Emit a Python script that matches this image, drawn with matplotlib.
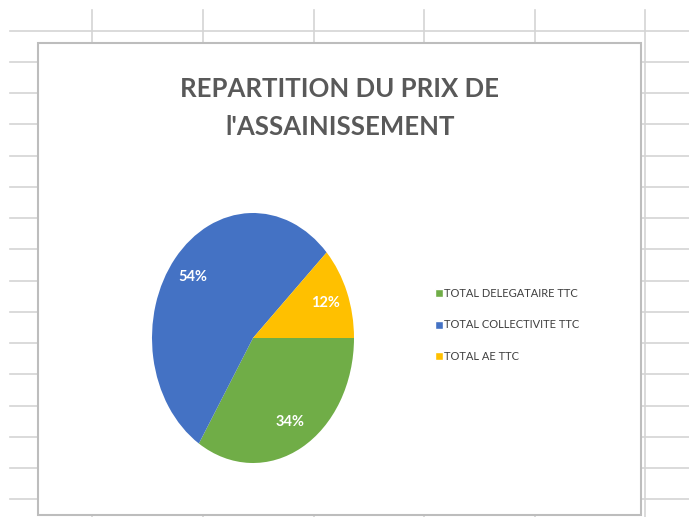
import matplotlib.pyplot as plt
from matplotlib.lines import Line2D
from matplotlib.patches import Rectangle

labels = ["TOTAL DELEGATAIRE TTC", "TOTAL COLLECTIVITE TTC", "TOTAL AE TTC"]
values = [34, 54, 12]
colors = ["#70AD47", "#4472C4", "#FFC000"]
title = "REPARTITION DU PRIX DE\nl'ASSAINISSEMENT"

W, H = 689, 517
fig = plt.figure(figsize=(W / 100, H / 100), dpi=100)
fig.patch.set_facecolor("white")

def fx(px):
    return px / W

def fy(py):
    return 1 - py / H

# spreadsheet grid behind the chart
grid_col = "#d4d4d4"
for k in range(16):
    y = 30.5 + 31.25 * k
    fig.add_artist(Line2D([fx(10), 1], [fy(y), fy(y)], color=grid_col, lw=1.2, zorder=0))
for x in [92, 203, 314, 424, 535, 645]:
    fig.add_artist(Line2D([fx(x), fx(x)], [fy(10), 0], color=grid_col, lw=1.2, zorder=0))

# chart area
fig.add_artist(Rectangle((fx(38), fy(515)), fx(641) - fx(38), fy(43) - fy(515),
                         facecolor="white", edgecolor="#bdbdbd", lw=1.5, zorder=1))

font = ["Lato", "DejaVu Sans"]

fig.text(fx(340), fy(108), title, ha="center", va="center", fontsize=18.5,
         fontweight="bold", color="#595959", family=font, linespacing=1.7, zorder=3)

cx, cy, rx, ry = 253, 338, 101, 125
ax = fig.add_axes([fx(cx - 1.25 * rx), fy(cy + 1.25 * ry), 2.5 * rx / W, 2.5 * ry / H], zorder=2)
ax.patch.set_alpha(0)
wedges, _, autotexts = ax.pie(values, colors=colors, startangle=0, counterclock=False,
                              autopct="%d%%", pctdistance=0.77,
                              wedgeprops=dict(linewidth=0))
for t in autotexts:
    t.set_color("white")
    t.set_fontweight("bold")
    t.set_fontsize(10.5)
    t.set_family(font)
ax.set_aspect("auto")
ax.set_xlim(-1.25, 1.25)
ax.set_ylim(-1.25, 1.25)
ax.axis("off")

handles = [Line2D([0], [0], marker="s", color="w", markerfacecolor=c, markersize=5.5, lw=0)
           for c in colors]
leg = fig.legend(handles, labels, loc="center left", bbox_to_anchor=(fx(426), fy(325)),
                 frameon=False, handlelength=0.6, handletextpad=0.15, labelspacing=1.85,
                 prop=dict(family=font, size=8))
for t in leg.get_texts():
    t.set_color("#404040")
leg.set_zorder(3)

fig.savefig("out.png", dpi=100)
